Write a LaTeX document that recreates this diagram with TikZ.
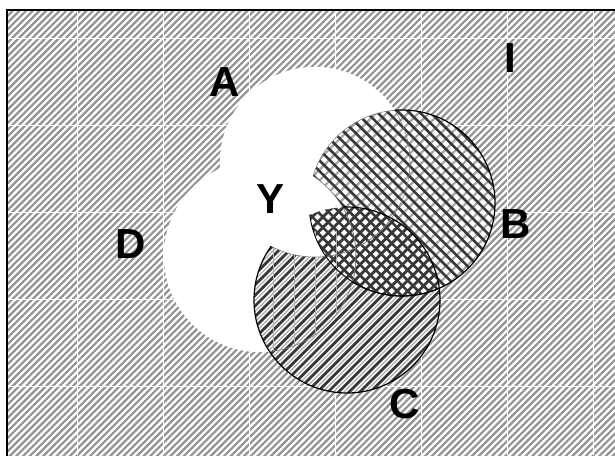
\documentclass[tikz,border=0pt]{standalone}
\usepackage{fontspec}
\setmainfont{Liberation Sans}
\begin{document}
\begin{tikzpicture}[x=1pt,y=-1pt,
  bgline/.style={line width=2.2pt, draw=black!42},
  seam/.style={line width=0.9pt, draw=white},
  bdark/.style={line width=2.6pt, draw=black!78},
  blight/.style={line width=2.2pt, draw=black!35},
  cdark/.style={line width=2.8pt, draw=black!78},
  clight/.style={line width=1.4pt, draw=black!30},
  gridline/.style={line width=0.8pt, draw=black!30},
  outline/.style={line width=1.2pt, draw=black},
  midline/.style={line width=0.9pt, draw=black},
  faint/.style={line width=0.5pt, draw=black!55},
  frame/.style={line width=2pt, draw=black},
  lbl/.style={font=\fontsize{42}{42}\selectfont\bfseries, inner sep=0pt, anchor=base}]

\useasboundingbox (0,0) rectangle (615,455);
\clip (0,0) rectangle (615,455);

\coordinate (cA) at (315,162);
\coordinate (cB) at (402,203);
\coordinate (cC) at (347,300);
\coordinate (cD) at (260,256);
\coordinate (tl) at (7,10);
\coordinate (br) at (640,480);

% universe background
\begin{scope}
  \clip (tl) rectangle (br);
  \foreach \k in {0,...,167} \draw[bgline] ({-480+6.7*\k},470) -- ++(480,-480);
  \foreach \x in {77,163,...,600} \draw[seam] (\x,10) -- (\x,455);
  \foreach \y in {38,125,...,455} \draw[seam] (7,\y) -- (615,\y);
\end{scope}

% white base of the four sets
\fill[white] (cA) circle[radius=95] (cB) circle[radius=93] (cC) circle[radius=93] (cD) circle[radius=96];

% B hatching: light lines only outside C
\begin{scope}[even odd rule]
  \clip (cB) circle[radius=93];
  \clip (-20,-20) -- (-20,480) -- (640,480) -- (640,-20) -- cycle (cC) circle[radius=93];
  \foreach \k in {0,...,40} \draw[blight] ({95+10.6*\k},320) -- ++(220,-220);
\end{scope}
\begin{scope}
  \clip (cB) circle[radius=93];
  \foreach \k in {0,...,40} \draw[bdark] ({100+10.6*\k},100) -- ++(220,220);
\end{scope}

% C hatching: light lines only outside B
\begin{scope}[even odd rule]
  \clip (cC) circle[radius=93];
  \clip (-20,-20) -- (-20,480) -- (640,480) -- (640,-20) -- cycle (cB) circle[radius=93];
  \foreach \k in {0,...,40} \draw[clight] ({55+5.3+10.6*\k},400) -- ++(200,-200);
\end{scope}
\begin{scope}
  \clip (cC) circle[radius=93];
  \foreach \k in {0,...,40} \draw[cdark] ({55+10.6*\k},400) -- ++(200,-200);
\end{scope}

% grid in C and D
\begin{scope}
  \clip (cC) circle[radius=93];
  \clip (cD) circle[radius=96];
  \draw[gridline] (231,231) grid[step=21] (378,378);
\end{scope}

% white parts: A minus B, D minus C
\begin{scope}
  \clip (cA) circle[radius=95];
  \fill[white, even odd rule] (cA) circle[radius=95] (cB) circle[radius=93];
\end{scope}
\begin{scope}
  \clip (cD) circle[radius=96];
  \fill[white, even odd rule] (cD) circle[radius=96] (cC) circle[radius=93];
\end{scope}

% faint inner boundaries
\begin{scope}
  \clip (cB) circle[radius=93];
  \draw[faint] (cA) circle[radius=95];
  \draw[faint] (cD) circle[radius=96];
\end{scope}
\begin{scope}
  \clip (cC) circle[radius=93];
  \draw[faint] (cA) circle[radius=95];
  \draw[faint] (cD) circle[radius=96];
\end{scope}
\begin{scope}[even odd rule]
  \clip (cA) circle[radius=95];
  \clip (-20,-20) -- (-20,480) -- (640,480) -- (640,-20) -- cycle (cD) circle[radius=96];
  \draw[faint] (cB) circle[radius=93];
\end{scope}

% dark outlines
\begin{scope}[even odd rule]
  \clip (-20,-20) -- (-20,480) -- (640,480) -- (640,-20) -- cycle (cA) circle[radius=95];
  \clip (-20,-20) -- (-20,480) -- (640,480) -- (640,-20) -- cycle (cD) circle[radius=96];
  \draw[outline] (cB) circle[radius=93];
\end{scope}
\begin{scope}
  \clip (cC) circle[radius=93];
  \draw[midline] (cB) circle[radius=93];
\end{scope}
\begin{scope}[even odd rule]
  \clip (-20,-20) -- (-20,480) -- (640,480) -- (640,-20) -- cycle (cA) circle[radius=95];
  \draw[outline] (cC) circle[radius=93];
\end{scope}
\begin{scope}[even odd rule]
  \clip (cA) circle[radius=95];
  \clip (cB) circle[radius=93];
  \clip (-20,-20) -- (-20,480) -- (640,480) -- (640,-20) -- cycle (cD) circle[radius=96];
  \draw[outline] (cC) circle[radius=93];
\end{scope}

% frame of the universe
\draw[frame] (tl) rectangle (br);

% labels
\node[lbl] (lA) at (225,96) {A};
\node[lbl] (lI) at (510,72) {I};
\node[lbl] (lY) at (271,213) {Y};
\node[lbl] (lD) at (131,258) {D};
\node[lbl] (lB) at (516,238) {B};
\node[lbl] (lC) at (405,418.5) {C};
\end{tikzpicture}
\end{document}
